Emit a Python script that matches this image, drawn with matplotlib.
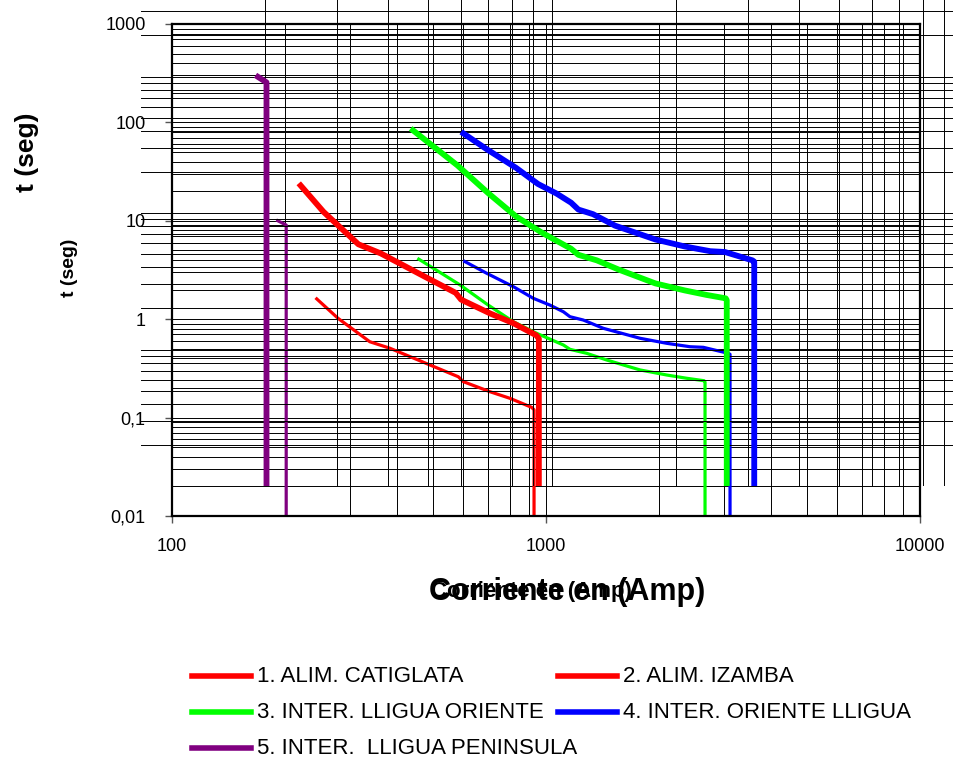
import numpy as np
import matplotlib
matplotlib.use("Agg")
import matplotlib.pyplot as plt
from matplotlib.lines import Line2D
from matplotlib.ticker import FixedLocator, NullFormatter

# curve data (current in A, time in s)
red_i = [242, 278, 338, 383, 490, 583, 601, 709, 801, 916, 929, 929]
red_t = [1.65, 1.02, 0.59, 0.506, 0.342, 0.26, 0.232, 0.183, 0.157, 0.127, 0.12, 0.01]

green_i = [453, 589, 701, 818, 944, 1113, 1159, 1285, 1453, 1784, 2102, 2378, 2646, 2662, 2662]
green_t = [4.16, 2.23, 1.39, 0.943, 0.719, 0.547, 0.494, 0.450, 0.385, 0.305, 0.271, 0.251, 0.237, 0.23, 0.01]

blue_i = [601, 694, 818, 925, 1025, 1113, 1159, 1258, 1423, 1784, 2102, 2427, 2634, 3073, 3105, 3105]
blue_t = [3.93, 2.93, 2.14, 1.63, 1.39, 1.19, 1.06, 0.981, 0.808, 0.640, 0.569, 0.525, 0.518, 0.450, 0.44, 0.01]

purple_i = [190, 202, 202]
purple_t = [10.2, 9.06, 0.01]

x_ticks = [100, 1000, 10000]
x_labels = ['100', '1000', '10000']
y_ticks = [0.01, 0.1, 1, 10, 100, 1000]
y_labels = ['0,01', '0,1', '1', '10', '100', '1000']

legend_labels = ['1. ALIM. CATIGLATA', '2. ALIM. IZAMBA',
                 '3. INTER. LLIGUA ORIENTE', '4. INTER. ORIENTE LLIGUA',
                 '5. INTER.  LLIGUA PENINSULA']
legend_colors = ['#ff0000', '#ff0000', '#00ff00', '#0000ff', '#800080']

curves = [(red_i, red_t, '#ff0000'), (green_i, green_t, '#00ff00'),
          (blue_i, blue_t, '#0000ff'), (purple_i, purple_t, '#800080')]

plt.rcParams['font.family'] = ['Liberation Sans', 'DejaVu Sans']

W, H = 954, 760
fig = plt.figure(figsize=(W / 100, H / 100), dpi=100)

# main chart
ax = fig.add_axes([172 / W, 1 - 516 / H, 748 / W, 492 / H])
ax.set_xscale('log')
ax.set_yscale('log')
ax.set_xlim(100, 10000)
ax.set_ylim(0.01, 1000)
ax.xaxis.set_major_locator(FixedLocator(x_ticks))
ax.yaxis.set_major_locator(FixedLocator(y_ticks))
ax.set_xticklabels(x_labels)
ax.set_yticklabels(y_labels)
ax.xaxis.set_minor_formatter(NullFormatter())
ax.yaxis.set_minor_formatter(NullFormatter())
ax.tick_params(which='major', direction='out', length=5, width=1, labelsize=13, color='#555555')
ax.tick_params(axis='x', pad=11)
ax.tick_params(axis='y', pad=14)
ax.tick_params(which='minor', length=0)
ax.grid(True, which='both', color='black', linewidth=0.7)
ax.set_axisbelow(True)
for s in ax.spines.values():
    s.set_linewidth(1.6)
for xs, ts, c in curves:
    ax.plot(xs, ts, color=c, linewidth=2.3, solid_capstyle='butt')

# second, stretched copy of the chart laid over the first
ax2 = fig.add_axes([141 / W, 1 - 486 / H, 822 / W, 682.5 / H])
ax2.set_xscale('log')
ax2.set_yscale('log')
ax2.set_xlim(100, 10000)
ax2.set_ylim(0.01, 1000)
ax2.patch.set_alpha(0)
for s in ax2.spines.values():
    s.set_visible(False)
gx = [m * 10 ** k for k in (2, 3) for m in range(1, 10)][1:]
gy = [m * 10.0 ** k for k in (-2, -1, 0, 1, 2) for m in range(1, 10)][1:]
ax2.xaxis.set_major_locator(FixedLocator(gx))
ax2.yaxis.set_major_locator(FixedLocator(gy))
ax2.xaxis.set_minor_locator(FixedLocator([]))
ax2.yaxis.set_minor_locator(FixedLocator([]))
ax2.tick_params(length=0, labelbottom=False, labelleft=False)
ax2.grid(True, which='major', color='black', linewidth=0.7)
ax2.set_axisbelow(True)
for xs, ts, c in curves:
    ax2.plot(xs, ts, color=c, linewidth=4.2, solid_capstyle='butt')

# axis titles (both copies overlap, as in the source)
fig.text(27 / W, 1 - 152 / H, 't (seg)', rotation=90, ha='center', va='center',
         fontsize=19, fontweight='bold')
fig.text(70 / W, 1 - 268 / H, 't (seg)', rotation=90, ha='center', va='center',
         fontsize=14, fontweight='bold')
fig.text(567 / W, 1 - 592 / H, 'Corriente en (Amp)', ha='center', va='center',
         fontsize=22, fontweight='bold')
fig.text(531 / W, 1 - 592 / H, 'Corriente en (Amp)', ha='center', va='center',
         fontsize=16, fontweight='bold')

# legend laid out by hand
col_x = [192, 558]
row_y = [676, 712, 748]
for n, (lab, c) in enumerate(zip(legend_labels, legend_colors)):
    x0 = col_x[n % 2]
    y0 = row_y[n // 2]
    fig.add_artist(Line2D([x0 / W, (x0 + 59) / W], [1 - y0 / H, 1 - y0 / H],
                          color=c, linewidth=4, transform=fig.transFigure))
    fig.text((x0 + 65) / W, 1 - y0 / H, lab, ha='left', va='center', fontsize=16)

fig.savefig('out.png', dpi=100)
